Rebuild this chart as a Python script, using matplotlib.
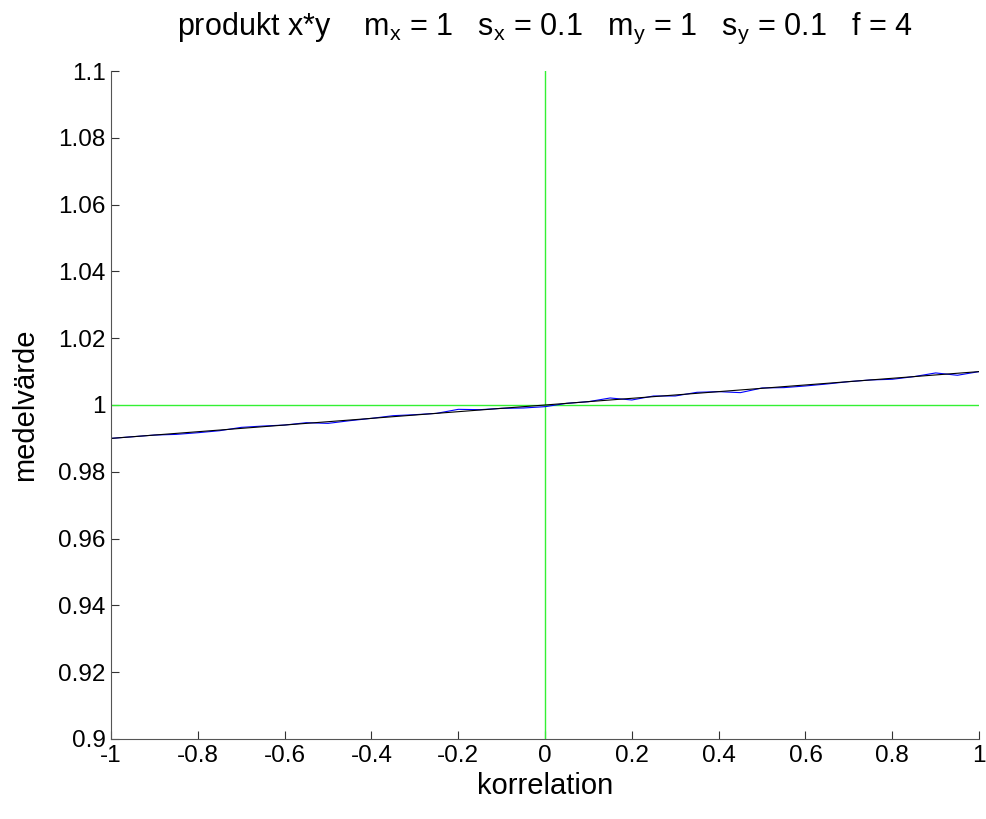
import numpy as np
import matplotlib
matplotlib.use('Agg')
import matplotlib.pyplot as plt
import matplotlib.ticker as ticker

plt.rcParams['font.family'] = ['Liberation Sans', 'DejaVu Sans']
plt.rcParams['mathtext.default'] = 'regular'
plt.rcParams['axes.unicode_minus'] = False

# correlation values
korr = np.linspace(-1, 1, 41)

# theoretical mean  (black)
teori = [0.9900, 0.9905, 0.9910, 0.9915, 0.9920, 0.9925, 0.9930, 0.9935, 0.9940, 0.9945,
         0.9950, 0.9955, 0.9960, 0.9965, 0.9970, 0.9975, 0.9980, 0.9985, 0.9990, 0.9995,
         1.0000, 1.0005, 1.0010, 1.0015, 1.0020, 1.0025, 1.0030, 1.0035, 1.0040, 1.0045,
         1.0050, 1.0055, 1.0060, 1.0065, 1.0070, 1.0075, 1.0080, 1.0085, 1.0090, 1.0095,
         1.0100]

# simulated mean  (blue)
simul = [0.9900, 0.9905, 0.9910, 0.9912, 0.9917, 0.9923, 0.9933, 0.9937, 0.9940, 0.9947,
         0.9945, 0.9953, 0.9960, 0.9968, 0.9971, 0.9975, 0.9987, 0.9986, 0.9990, 0.9991,
         0.9995, 1.0005, 1.0010, 1.0021, 1.0015, 1.0027, 1.0027, 1.0038, 1.0040, 1.0037,
         1.0051, 1.0052, 1.0057, 1.0063, 1.0070, 1.0075, 1.0077, 1.0085, 1.0096, 1.0089,
         1.0100]

fig = plt.figure(figsize=(9.87, 8.19), dpi=100)
ax = fig.add_axes([0.1125, 0.0977, 0.8795, 0.8156])

ax.axhline(1, color='#33f033', lw=1.0)
ax.axvline(0, color='#33f033', lw=1.0)
ax.plot(korr, simul, color='blue', lw=0.8)
ax.plot(korr, teori, color='black', lw=0.8)

ax.set_xlim(-1, 1)
ax.set_ylim(0.9, 1.1)
ax.set_xticks(np.arange(-1, 1.01, 0.2))
ax.set_yticks(np.arange(0.9, 1.101, 0.02))
fmt = ticker.FuncFormatter(lambda v, pos: '{0:g}'.format(round(v, 4) + 0.0))
ax.xaxis.set_major_formatter(fmt)
ax.yaxis.set_major_formatter(fmt)

ax.spines['top'].set_visible(False)
ax.spines['right'].set_visible(False)
for s in ['left', 'bottom']:
    ax.spines[s].set_color('#555555')
    ax.spines[s].set_linewidth(0.8)
ax.tick_params(direction='in', length=6, width=0.8, color='#333333',
               labelsize=17.5, pad=4)

ax.set_xlabel('korrelation', fontsize=21)
ax.set_ylabel('medelvärde', fontsize=21, labelpad=14)
ax.set_title('produkt x*y    m$_x$ = 1   s$_x$ = 0.1   m$_y$ = 1   s$_y$ = 0.1   f = 4',
             fontsize=22, pad=26)

plt.savefig('out.png', dpi=100)
